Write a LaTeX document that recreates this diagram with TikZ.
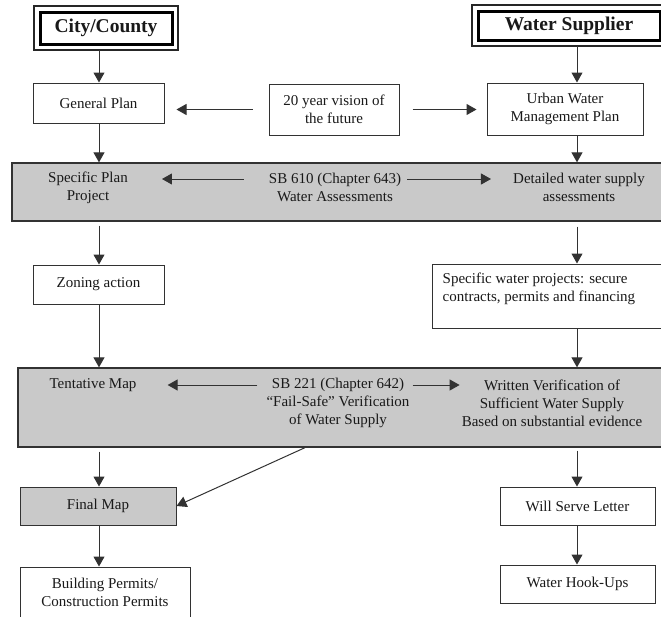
\documentclass[tikz,border=0pt]{standalone}
\usepackage{fontspec}
\setmainfont{Liberation Serif}
\usetikzlibrary{arrows.meta}

\definecolor{bandgray}{RGB}{201,201,201}
\definecolor{linegray}{RGB}{50,50,50}

\begin{document}
\begin{tikzpicture}[x=1pt, y=-1pt,
  every node/.style={font=\fontsize{15}{17.8}\selectfont, text=black!90},
  box/.style={draw=linegray, line width=1pt, fill=white, inner sep=0pt, align=center},
  band/.style={draw=linegray, line width=1.3pt, fill=bandgray, inner sep=0pt},
  headbox/.style={draw=black, line width=3pt, inner sep=0pt,
    font=\fontsize{19.5}{22}\selectfont\bfseries},
  headframe/.style={draw=black!85, line width=1.6pt},
  txt/.style={inner sep=0pt, align=center},
  arr/.style={-{Triangle[length=10pt,width=11pt]}, line width=1pt, draw=linegray},
]

%% Fixed margins
\useasboundingbox (0,0) rectangle (661,616);

%% Columns of the vertical arrows
\coordinate (colL) at (99,0);
\coordinate (colR) at (577,0);

%% Top row
\node[headbox, minimum width=132pt, minimum height=32pt] (city) at (106,28) {City/County};
\node[headbox, minimum width=182pt, minimum height=29pt] (water) at (569,25.5) {Water Supplier};
\draw[headframe] ([shift={(-4.5pt,4.5pt)}]city.north west) rectangle ([shift={(4.5pt,-4.5pt)}]city.south east);
\draw[headframe] ([shift={(-4.5pt,4.5pt)}]water.north west) rectangle ([shift={(4.5pt,-4.5pt)}]water.south east);

\node[box, minimum width=131pt, minimum height=40pt] (general) at (98.5,103) {General Plan};
\node[box, minimum width=130pt, minimum height=51pt] (vision) at (334,109.5) {20 year vision of\\the future};
\node[box, minimum width=156pt, minimum height=52pt] (urban) at (565,109) {Urban Water\\Management Plan};

%% SB 610 band
\node[band, minimum width=653pt, minimum height=58pt] (band1) at (338.5,192) {};
\node[txt] (specplan) at (88,187.5) {Specific Plan\\Project};
\node[txt] (sb610) at (335,187.5) {SB 610 (Chapter 643)\\Water Assessments};
\node[txt] (detailed) at (579,187.5) {Detailed water supply\\assessments};

\node[box, minimum width=131pt, minimum height=39pt] (zoning) at (98.5,284.5) {Zoning action};
\node[box, minimum width=233pt, minimum height=64pt] (specwater) at (548.5,296) {};
\node[txt, align=left, anchor=north west] (specwatertxt) at ([shift={(11pt,-9pt)}]specwater.north west)
  {Specific water projects: secure\\contracts, permits and financing};

%% SB 221 band
\node[band, minimum width=647pt, minimum height=79pt] (band2) at (341.5,407.5) {};
\node[txt] (tentative) at (93,385) {Tentative Map};
\node[txt] (sb221) at (338,403) {SB 221 (Chapter 642)\\“Fail-Safe” Verification\\of Water Supply};
\node[txt] (written) at (552,403) {Written Verification of\\Sufficient Water Supply\\Based on substantial evidence};

%% Bottom rows
\node[box, fill=bandgray, minimum width=156pt, minimum height=38pt] (finalmap) at (98,506) {Final Map};
\node[box, minimum width=170pt, minimum height=50pt] (building) at (105,592) {Building Permits/\\Construction Permits};
\node[box, minimum width=155pt, minimum height=38pt] (willserve) at (577.5,506) {Will Serve Letter};
\node[box, minimum width=155pt, minimum height=38pt] (hookups) at (577.5,584) {Water Hook-Ups};

%% Left column
\draw[arr] (colL |- city.south) ++(0,4.5) -- (colL |- general.north);
\draw[arr] (colL |- general.south) -- (colL |- band1.north);
\draw[arr, shorten <=4pt] (colL |- band1.south) -- (colL |- zoning.north);
\draw[arr] (colL |- zoning.south) -- (colL |- band2.north);
\draw[arr, shorten <=4pt] (colL |- band2.south) -- (colL |- finalmap.north);
\draw[arr] (colL |- finalmap.south) -- (colL |- building.north);

%% Right column
\draw[arr] (colR |- water.south) ++(0,4.5) -- (colR |- urban.north);
\draw[arr] (colR |- urban.south) -- (colR |- band1.north);
\draw[arr, shorten <=5pt] (colR |- band1.south) -- (colR |- specwater.north);
\draw[arr] (colR |- specwater.south) -- (colR |- band2.north);
\draw[arr, shorten <=3pt] (colR |- band2.south) -- (colR |- willserve.north);
\draw[arr] (colR |- willserve.south) -- (colR |- hookups.north);

%% Sideways arrows
\draw[arr, shorten <=16pt, shorten >=12pt] (vision.west) -- (general.east |- vision.west);
\draw[arr, shorten <=13pt, shorten >=10pt] (vision.east) -- (urban.west |- vision.east);
\draw[arr, shorten <=25pt, shorten >=34pt] ([yshift=8.5pt]sb610.west) -- ([yshift=8.5pt]specplan.east);
\draw[arr, shorten <=6pt, shorten >=22pt] ([yshift=8.5pt]sb610.east) -- ([yshift=8.5pt]detailed.west);
\draw[arr, shorten <=9pt, shorten >=31pt] (sb221.west |- tentative.east) -- (tentative.east);
\draw[arr, shorten <=3pt, shorten >=2pt] (sb221.east |- tentative.east) -- (written.west |- tentative.east);
\draw[arr] ([xshift=-36.5pt]band2.south) -- (finalmap.east);

\end{tikzpicture}
\end{document}
